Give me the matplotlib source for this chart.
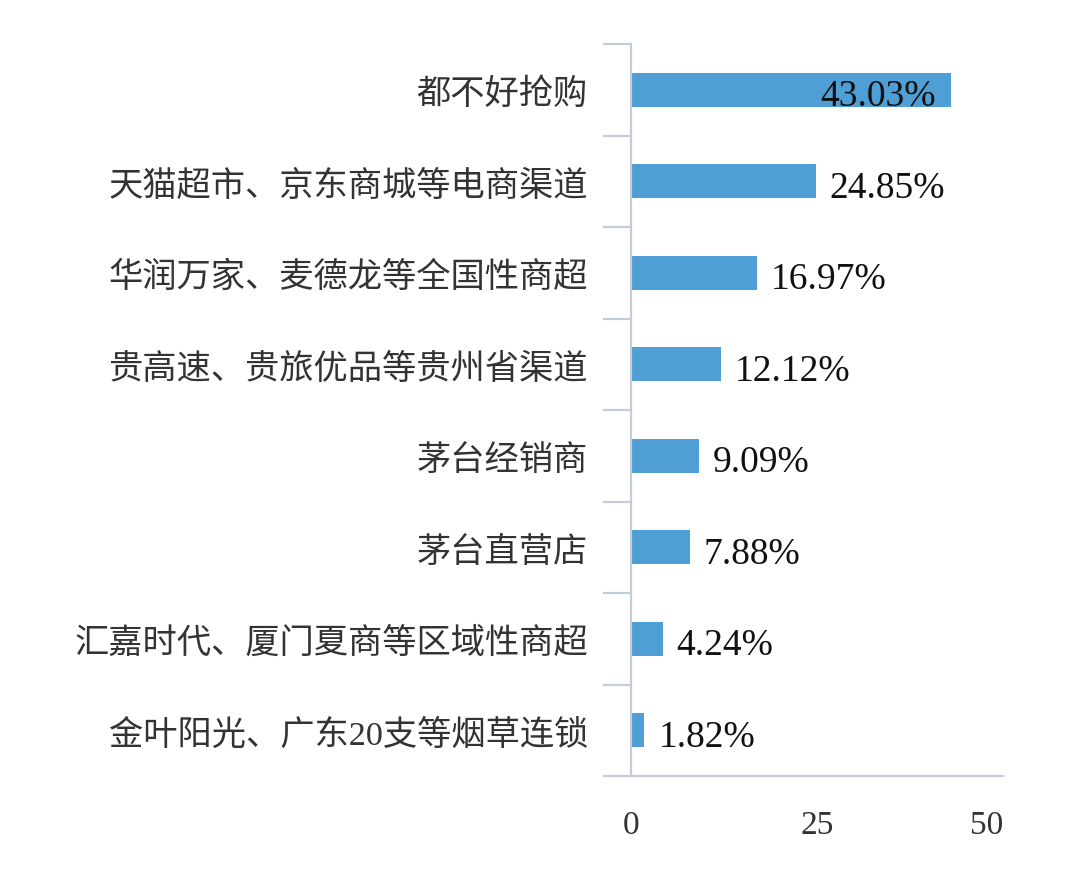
import numpy as np
import matplotlib
matplotlib.use("Agg")
import matplotlib.pyplot as plt

# data (top to bottom)
categories = ['都不好抢购', '天猫超市、京东商城等电商渠道', '华润万家、麦德龙等全国性商超',
              '贵高速、贵旅优品等贵州省渠道', '茅台经销商', '茅台直营店',
              '汇嘉时代、厦门夏商等区域性商超', '金叶阳光、广东20支等烟草连锁']
values = [43.03, 24.85, 16.97, 12.12, 9.09, 7.88, 4.24, 1.82]
xticks = [0, 25, 50]

fonts = ['Liberation Serif', 'Noto Sans CJK SC']
plt.rcParams['font.family'] = fonts

bar_color = '#4f9fd6'
axis_color = '#c3ccd9'

fig = plt.figure(figsize=(10.78, 8.79), dpi=100)
ax = fig.add_axes([0.5853, 0.116, 0.9304 - 0.5853, 0.9488 - 0.116])

y = np.arange(len(categories))
ax.barh(y, values, height=0.37, color=bar_color)

ax.set_xlim(0, 50)
ax.set_ylim(len(categories) - 0.5, -0.5)

# value labels
for yi, v in zip(y, values):
    txt = f'{v:.2f}%'
    if v > 40:
        ax.annotate(txt, (v, yi), xytext=(-15, -6), textcoords='offset pixels',
                    ha='right', va='center', fontsize=27, color='#111111')
    else:
        ax.annotate(txt, (v, yi), xytext=(14, -6), textcoords='offset pixels',
                    ha='left', va='center', fontsize=27, color='#111111')

# category labels (drawn as text so they can sit a bit below centre)
ax.set_yticks(y)
ax.set_yticklabels([''] * len(categories))
for yi, cat in zip(y, categories):
    ax.annotate(cat, xy=(0, yi), xycoords=('axes fraction', 'data'),
                xytext=(-43, -4), textcoords='offset pixels',
                ha='right', va='center', fontsize=24.7, color='#333333',
                family=['Liberation Serif', 'Noto Sans CJK SC'] if '20' in cat
                else ['Noto Sans CJK SC'])
ax.tick_params(axis='y', which='major', length=0)
ax.set_yticks(np.arange(-0.5, len(categories)), minor=True)
ax.tick_params(axis='y', which='minor', length=20, width=1.6, color=axis_color,
               direction='out')

ax.set_xticks(xticks)
ax.set_xticklabels([str(t) for t in xticks], fontsize=24, color='#333333')
ax.tick_params(axis='x', length=0, pad=24)
ax.get_xticklabels()[-1].set_horizontalalignment('right')

for s in ['top', 'right']:
    ax.spines[s].set_visible(False)
for s in ['left', 'bottom']:
    ax.spines[s].set_color(axis_color)
    ax.spines[s].set_linewidth(1.6)

fig.savefig('out.png', dpi=100, facecolor='white')
